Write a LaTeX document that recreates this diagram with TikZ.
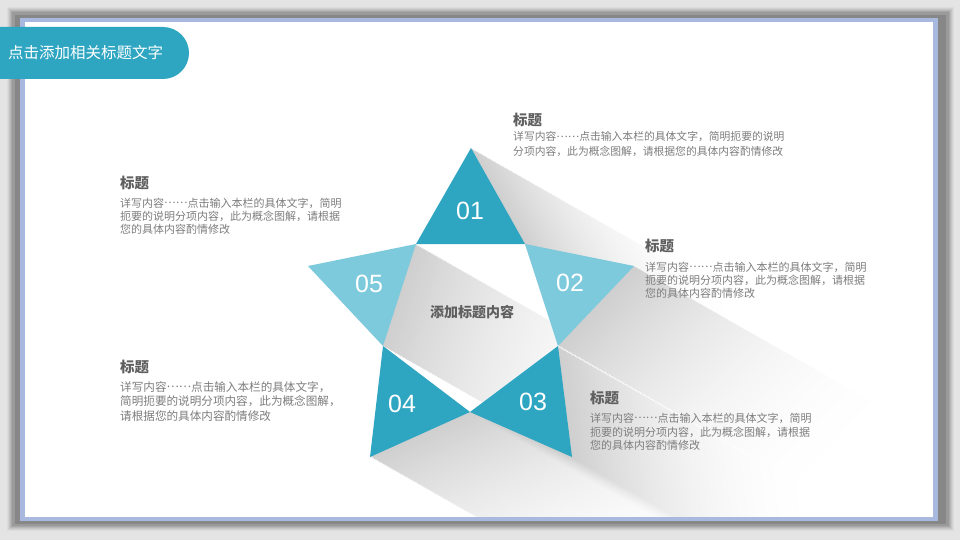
\documentclass[tikz,border=0pt]{standalone}
\usepackage{fontspec}
\setmainfont{Liberation Sans}
\newfontfamily\cjk{Noto Sans CJK SC}
\newcommand\dotsmid{\raisebox{0.32em}{……}}
\definecolor{tealD}{RGB}{46,166,194}
\definecolor{tealL}{RGB}{126,202,221}
\definecolor{headc}{RGB}{95,95,95}
\definecolor{bodyc}{RGB}{125,125,125}
\definecolor{bgc}{RGB}{228,228,228}
\definecolor{framec}{RGB}{168,184,222}
\definecolor{shadc}{RGB}{135,135,135}
\tikzset{
  triA/.style={insert path={(471,148)--(416,244)--(525,244)--cycle}},
  triB/.style={insert path={(525,244)--(634,266)--(558,346)--cycle}},
  triC/.style={insert path={(558,346)--(572,457)--(470,412)--cycle}},
  triD/.style={insert path={(383,346)--(470,412)--(370,457)--cycle}},
  triE/.style={insert path={(416,244)--(308,266)--(383,346)--cycle}},
  headtxt/.style={font=\cjk\bfseries\fontsize{14.5}{16}\selectfont, text=headc, anchor=west, inner sep=0pt},
  bodytxt/.style={font=\cjk\fontsize{11}{13}\selectfont, text=bodyc, anchor=west, inner sep=0pt},
  numtxt/.style={font=\fontsize{25}{28}\selectfont, text=white, inner sep=0pt},
}
\begin{document}
\begin{tikzpicture}[x=1pt,y=-1pt]
\useasboundingbox (0,0) rectangle (960,540);
% background
\fill[bgc] (0,0) rectangle (960,540);
% frame shadow (soft)
\foreach \k/\o in {6/0.08,5/0.12,4/0.16,3/0.22,2/0.30,1/0.42}{
  \fill[shadc,opacity=\o] (13-\k,13-\k) rectangle (948+\k,525+\k);
}
\fill[shadc] (15,15) rectangle (946,524);
\fill[framec] (20,18) rectangle (938,521);
\fill[white] (25,22) rectangle (933,517);
% long shadows of the star
\begin{scope}
  \clip (25,22) rectangle (933,517);
  \begin{scope}[blend mode=darken]
  \foreach \i in {200,199,...,1}{
    \pgfmathsetmacro\p{19*(1-\i/200)^2}
    \begin{scope}[shift={(\i*1.3,\i*0.74)}]
      \fill[black!\p!white, triA];
      \fill[black!\p!white, triB];
      \fill[black!\p!white, triC];
      \fill[black!\p!white, triD];
    \end{scope}
  }
  \end{scope}
  % the inner pentagon is not darkened by 01
  \fill[white] (416,244)--(525,244)--(558,346)--(470,412)--(383,346)--cycle;
  \begin{scope}[blend mode=darken]
  \foreach \i in {200,199,...,1}{
    \pgfmathsetmacro\p{19*(1-\i/200)^2}
    \begin{scope}[shift={(\i*1.3,\i*0.74)}]
      \fill[black!\p!white, triE];
    \end{scope}
  }
  \end{scope}
\end{scope}
% star triangles
\fill[tealD, triA];
\fill[tealL, triB];
\fill[tealD, triC];
\fill[tealD, triD];
\fill[tealL, triE];
\node[numtxt] (n01) at (470,211) {01};
\node[numtxt] (n02) at (570,283) {02};
\node[numtxt] (n03) at (533,402) {03};
\node[numtxt] (n04) at (402,404) {04};
\node[numtxt] (n05) at (369,284) {05};
\node[headtxt, anchor=center, font=\cjk\bfseries\fontsize{14}{16}\selectfont] (ctr) at (472,312) {添加标题内容};
% title tab
\fill[tealD, rounded corners=26pt] (-40,27) rectangle (189,79);
\node[font=\cjk\fontsize{15.5}{18}\selectfont, text=white, anchor=west, inner sep=0pt] (title) at (8,53) {点击添加相关标题文字};
% block 1 (top right)
\node[headtxt] (h1) at (513,120) {标题};
\node[bodytxt, font=\cjk\fontsize{10.8}{13}\selectfont] (b1a) at (513,137) {详写内容\dotsmid 点击输入本栏的具体文字，简明扼要的说明};
\node[bodytxt, font=\cjk\fontsize{10.8}{13}\selectfont] (b1b) at (513,151) {分项内容，此为概念图解，请根据您的具体内容酌情修改};
% block 2 (left top)
\node[headtxt] (h2) at (120,183) {标题};
\node[bodytxt] (b2a) at (120,203) {详写内容\dotsmid 点击输入本栏的具体文字，简明};
\node[bodytxt] (b2b) at (120,216) {扼要的说明分项内容，此为概念图解，请根据};
\node[bodytxt] (b2c) at (120,229) {您的具体内容酌情修改};
% block 3 (right middle)
\node[headtxt] (h3) at (645,246) {标题};
\node[bodytxt] (b3a) at (645,267) {详写内容\dotsmid 点击输入本栏的具体文字，简明};
\node[bodytxt] (b3b) at (645,280) {扼要的说明分项内容，此为概念图解，请根据};
\node[bodytxt] (b3c) at (645,293) {您的具体内容酌情修改};
% block 4 (left bottom)
\node[headtxt] (h4) at (120,367) {标题};
\node[bodytxt, font=\cjk\fontsize{11.6}{13}\selectfont] (b4a) at (120,387) {详写内容\dotsmid 点击输入本栏的具体文字，};
\node[bodytxt, font=\cjk\fontsize{11.6}{13}\selectfont] (b4b) at (120,401) {简明扼要的说明分项内容，此为概念图解，};
\node[bodytxt, font=\cjk\fontsize{11.6}{13}\selectfont] (b4c) at (120,416) {请根据您的具体内容酌情修改};
% block 5 (right bottom)
\node[headtxt] (h5) at (590,398) {标题};
\node[bodytxt] (b5a) at (590,418) {详写内容\dotsmid 点击输入本栏的具体文字，简明};
\node[bodytxt] (b5b) at (590,432) {扼要的说明分项内容，此为概念图解，请根据};
\node[bodytxt] (b5c) at (590,445) {您的具体内容酌情修改};
\end{tikzpicture}
\end{document}
